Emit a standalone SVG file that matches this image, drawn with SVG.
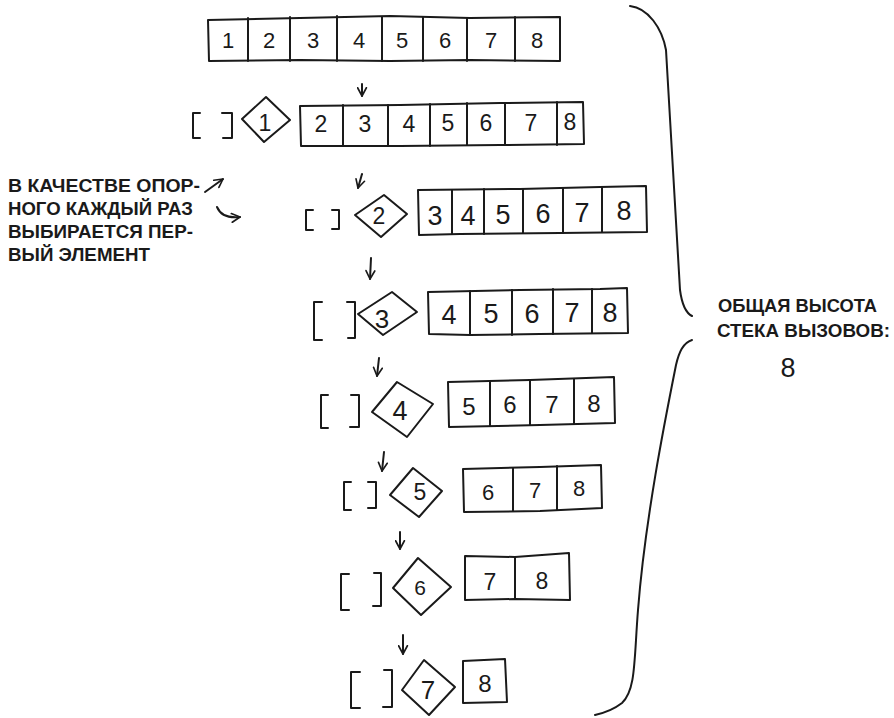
<svg xmlns="http://www.w3.org/2000/svg" width="894" height="718" viewBox="0 0 894 718">
<defs>
<style>
.ln{fill:none;stroke:#1a1a1a;stroke-width:2;stroke-linecap:round;stroke-linejoin:round}
.box{fill:#fff;stroke:#1a1a1a;stroke-width:2;stroke-linejoin:round}
.d{font-family:"Liberation Sans",Arial,sans-serif;fill:#1a1a1a;text-anchor:middle}
.lbl{font-family:"Liberation Sans",Arial,sans-serif;font-weight:bold;fill:#1a1a1a;font-size:18px}
</style>
<marker id="ah" viewBox="0 0 10 10" refX="8.5" refY="5" markerWidth="11" markerHeight="11" markerUnits="userSpaceOnUse" orient="auto">
<path d="M1,1 L8.5,5 L1,9" fill="none" stroke="#1a1a1a" stroke-width="1.5" stroke-linecap="round" stroke-linejoin="round"/>
</marker>
</defs>
<rect width="894" height="718" fill="#fff"/>

<g id="row0">
<path class="box" d="M208,20 L300,18 L390,16 L470,18 L560,17 L560,61 L470,60 L390,61 L300,60 L209,61 Z"/>
<path class="ln" d="M248,18V61 M290,17V61 M337,16V61 M382,17V61 M423,17V61 M467,18V61 M515,17V61"/>
<g class="d" font-size="22">
<text x="228" y="48">1</text><text x="269" y="48">2</text><text x="313" y="48">3</text><text x="359" y="48">4</text><text x="402" y="48">5</text><text x="445" y="48">6</text><text x="491" y="48">7</text><text x="537" y="48">8</text>
</g>
</g>

<g id="row1">
<path class="ln" d="M200,113 H193 V138 H200 M222,113 H232 V138 H223"/>
<polygon class="box" points="266,97 290,120 264,142 242,119"/>
<text class="d" font-size="23" x="265" y="131">1</text>
<path class="box" d="M300,106 L400,105 L500,103 L583,102 L584,144 L500,145 L400,146 L301,146 Z"/>
<path class="ln" d="M343,105V146 M388,105V146 M430,104V146 M467,103V145 M505,103V145 M557,102V145"/>
<g class="d" font-size="23">
<text x="321" y="132">2</text><text x="365" y="132">3</text><text x="409" y="132">4</text><text x="448" y="131">5</text><text x="486" y="131">6</text><text x="531" y="131">7</text><text x="570" y="130">8</text>
</g>
</g>

<g id="row2">
<path class="ln" d="M313,210 H306 V230 H313 M332,210 H339 V229 H332"/>
<polygon class="box" points="384,195 407,214 381,237 355,215"/>
<text class="d" font-size="23" x="379" y="224">2</text>
<path class="box" d="M418,190 L520,189 L600,187 L646,186 L647,232 L560,233 L460,234 L419,235 Z"/>
<path class="ln" d="M452,190V234 M484,189V234 M523,189V233 M563,188V233 M602,187V232"/>
<g class="d" font-size="27">
<text x="435" y="225">3</text><text x="468" y="225">4</text><text x="503" y="224">5</text><text x="543" y="223">6</text><text x="582" y="222">7</text><text x="624" y="220">8</text>
</g>
</g>

<g id="row3">
<path class="ln" d="M322,302 H314 V340 H322 M347,302 H355 V338 H348"/>
<polygon class="box" points="392,292 417,312 383,335 358,314"/>
<text class="d" font-size="26" x="382" y="328">3</text>
<path class="box" d="M428,292 L520,290 L600,289 L627,288 L628,333 L540,334 L470,335 L429,334 Z"/>
<path class="ln" d="M470,291V335 M512,290V335 M553,289V334 M592,289V333"/>
<g class="d" font-size="27">
<text x="449" y="324">4</text><text x="491" y="323">5</text><text x="532" y="323">6</text><text x="572" y="322">7</text><text x="610" y="322">8</text>
</g>
</g>

<g id="row4">
<path class="ln" d="M328,395 H321 V428 H328 M351,395 H359 V427 H350"/>
<polygon class="box" points="397,382 433,404 407,437 372,412"/>
<text class="d" font-size="27" x="400" y="420">4</text>
<path class="box" d="M448,382 L530,380 L614,377 L615,423 L540,425 L449,427 Z"/>
<path class="ln" d="M490,381V426 M530,380V425 M574,379V424"/>
<g class="d" font-size="24">
<text x="469" y="415">5</text><text x="510" y="413">6</text><text x="552" y="413">7</text><text x="594" y="412">8</text>
</g>
</g>

<g id="row5">
<path class="ln" d="M351,482 H344 V510 H351 M368,482 H376 V508 H368"/>
<polygon class="box" points="413,468 442,491 419,517 390,495"/>
<text class="d" font-size="23" x="420" y="500">5</text>
<path class="box" d="M463,469 L540,467 L601,465 L602,508 L540,511 L464,512 Z"/>
<path class="ln" d="M513,468V511 M557,466V510"/>
<g class="d" font-size="22">
<text x="488" y="500">6</text><text x="535" y="498">7</text><text x="579" y="496">8</text>
</g>
</g>

<g id="row6">
<path class="ln" d="M349,574 H341 V610 H349 M374,573 H381 V606 H373"/>
<polygon class="box" points="418,558 451,587 421,615 393,588"/>
<text class="d" font-size="21" x="420" y="595">6</text>
<path class="box" d="M465,556 L515,557 L569,553 L570,600 L515,599 L465,600 Z"/>
<path class="ln" d="M515,557V599"/>
<g class="d" font-size="23">
<text x="490" y="590">7</text><text x="542" y="589">8</text>
</g>
</g>

<g id="row7">
<path class="ln" d="M360,672 H351 V708 H360 M384,670 H392 V707 H383"/>
<polygon class="box" points="424,660 455,687 429,715 402,690"/>
<text class="d" font-size="26" x="428" y="699">7</text>
<path class="box" d="M463,661 L505,659 L507,702 L463,703 Z"/>
<text class="d" font-size="24" x="485" y="692">8</text>
</g>

<g id="connectors">
<path class="ln" d="M362,84 V96" marker-end="url(#ah)"/>
<path class="ln" d="M362,174 L358,188" marker-end="url(#ah)"/>
<path class="ln" d="M371,258 L370,279" marker-end="url(#ah)"/>
<path class="ln" d="M379,358 L377,376" marker-end="url(#ah)"/>
<path class="ln" d="M384,452 L382,471" marker-end="url(#ah)"/>
<path class="ln" d="M400,532 L400,549" marker-end="url(#ah)"/>
<path class="ln" d="M403,635 L403,654" marker-end="url(#ah)"/>
<path class="ln" d="M205,192 L223,179" marker-end="url(#ah)"/>
<path class="ln" d="M217,207 Q222,219 240,217" marker-end="url(#ah)"/>
</g>

<g id="brace">
<path class="ln" d="M630,6 C648,8 662,28 666,50 C670,120 676,220 680,290 C682,305 686,313 692,316"/>
<path class="ln" d="M692,340 C683,343 679,352 676,365 C665,420 645,520 638,610 C634,660 636,690 622,703 C613,710 604,713 595,715"/>
</g>

<g id="note-left">
<text class="lbl" x="8" y="192" textLength="192" lengthAdjust="spacingAndGlyphs">В КАЧЕСТВЕ ОПОР-</text>
<text class="lbl" x="8" y="215" textLength="185" lengthAdjust="spacingAndGlyphs">НОГО КАЖДЫЙ РАЗ</text>
<text class="lbl" x="8" y="238" textLength="185" lengthAdjust="spacingAndGlyphs">ВЫБИРАЕТСЯ ПЕР-</text>
<text class="lbl" x="8" y="261" textLength="142" lengthAdjust="spacingAndGlyphs">ВЫЙ ЭЛЕМЕНТ</text>
</g>

<g id="note-right">
<text class="lbl" font-size="20" x="718" y="312" textLength="159" lengthAdjust="spacingAndGlyphs">ОБЩАЯ ВЫСОТА</text>
<text class="lbl" font-size="20" x="717" y="337" textLength="173" lengthAdjust="spacingAndGlyphs">СТЕКА ВЫЗОВОВ:</text>
<text class="d" font-size="27" x="788" y="377">8</text>
</g>
</svg>
